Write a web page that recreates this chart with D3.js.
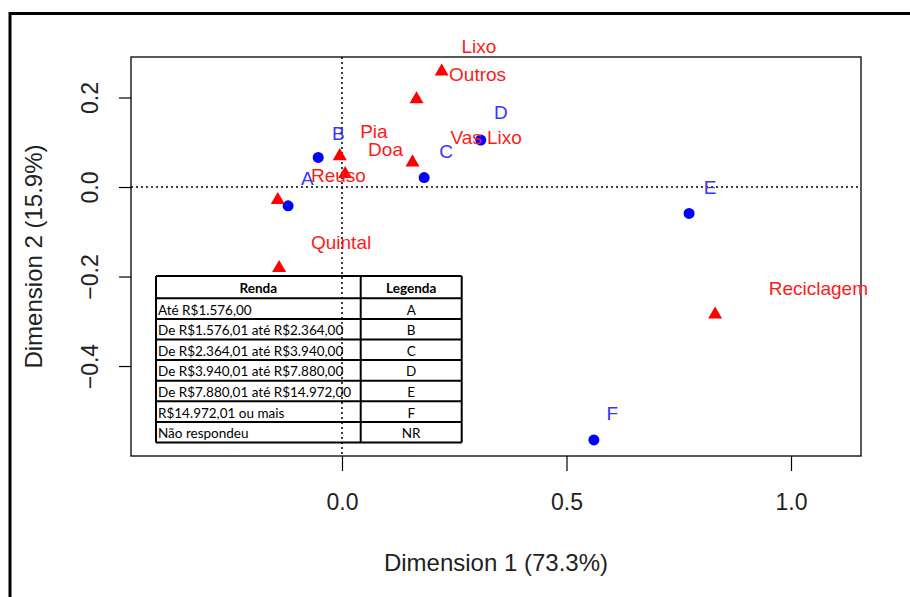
<!DOCTYPE html>
<html><head><meta charset="utf-8">
<script src="https://cdn.jsdelivr.net/npm/d3@7"></script>
<style>body{margin:0;background:#fff}svg{display:block}</style>
</head><body>
<svg id="c" width="910" height="597"></svg>
<script>
// ---- data ----
const rowNames = ["A","B","C","D","E","F"];
const rowX = [-0.120,-0.053,0.183,0.309,0.773,0.561];
const rowY = [-0.042,0.066,0.021,0.105,-0.059,-0.565];
const rowLabelX = [-0.077,-0.008,0.232,0.354,0.820,0.602];
const rowLabelY = [0.019,0.120,0.080,0.166,-0.002,-0.507];

const colNames = ["Outros","Lixo","Pia","Reuso","Vas Lixo","Doa","Quintal","Reciclagem"];
const colX = [0.222,0.166,-0.005,0.007,0.157,-0.143,-0.140,0.831];
const colY = [0.258,0.196,0.069,0.029,0.055,-0.029,-0.181,-0.285];
const colLabelX = [0.302,0.305,0.071,-0.008,0.321,0.097,-0.002,1.061];
const colLabelY = [0.252,0.315,0.125,0.025,0.110,0.084,-0.123,-0.226];

const xTicks = [0.0,0.5,1.0];
const yTicks = [-0.4,-0.2,0.0,0.2];
const xTitle = "Dimension 1 (73.3%)";
const yTitle = "Dimension 2 (15.9%)";

const tableHeader = ["Renda","Legenda"];
const rendaLabels = ["Até R$1.576,00","De R$1.576,01 até R$2.364,00","De R$2.364,01 até R$3.940,00","De R$3.940,01 até R$7.880,00","De R$7.880,01 até R$14.972,00","R$14.972,01 ou mais","Não respondeu"];
const legendaCodes = ["A","B","C","D","E","F","NR"];

// ---- drawing ----
const svg = d3.select("#c");
const L=131, R=861, T=57, B=456;
const x = d3.scaleLinear().domain([-0.4699,1.1559]).range([L,R]);
const y = d3.scaleLinear().domain([0.2905,-0.601]).range([T,B]);
const font = "'Liberation Sans', Arial, sans-serif";

// outer frame
svg.append("path").attr("d","M10,600 L10,13.5 L915,13.5")
  .attr("fill","none").attr("stroke","#000").attr("stroke-width",3);

// reference dotted lines
svg.append("line").attr("x1",L).attr("x2",R).attr("y1",y(0)).attr("y2",y(0))
  .attr("stroke","#000").attr("stroke-width",1.5).attr("stroke-dasharray","2,3");
svg.append("line").attr("x1",x(0)).attr("x2",x(0)).attr("y1",T).attr("y2",B)
  .attr("stroke","#000").attr("stroke-width",1.5).attr("stroke-dasharray","2,3");

// box
svg.append("rect").attr("x",L).attr("y",T).attr("width",R-L).attr("height",B-T)
  .attr("fill","none").attr("stroke","#000").attr("stroke-width",1.3);

// axes
const gx = svg.append("g").attr("transform",`translate(0,${B})`)
  .call(d3.axisBottom(x).tickValues(xTicks).tickFormat(d3.format(".1f")).tickSize(15).tickSizeOuter(0));
gx.select(".domain").remove();
gx.selectAll(".tick line").attr("stroke","#000").attr("stroke-width",1.2);
gx.selectAll(".tick text").attr("font-family",font).attr("font-size",23).attr("fill","#222")
  .attr("y",46).attr("dy","0.35em");

const gy = svg.append("g").attr("transform",`translate(${L},0)`)
  .call(d3.axisLeft(y).tickValues(yTicks).tickFormat(d3.format(".1f")).tickSize(12).tickSizeOuter(0));
gy.select(".domain").remove();
gy.selectAll(".tick line").attr("stroke","#000").attr("stroke-width",1.2);
gy.selectAll(".tick text").attr("font-family",font).attr("font-size",23).attr("fill","#222")
  .attr("x",null).attr("dy",null)
  .attr("text-anchor","middle").attr("dominant-baseline","central")
  .attr("transform","translate(-41,0) rotate(-90)");

// titles
svg.append("text").attr("x",(L+R)/2).attr("y",562).attr("text-anchor","middle")
  .attr("dominant-baseline","central").attr("font-family",font).attr("font-size",24)
  .attr("fill","#222").text(xTitle);
svg.append("text").attr("transform",`translate(33,${(T+B)/2}) rotate(-90)`).attr("text-anchor","middle")
  .attr("dominant-baseline","central").attr("font-family",font).attr("font-size",24)
  .attr("fill","#222").text(yTitle);

// points
svg.append("g").selectAll("circle").data(rowNames).join("circle")
  .attr("cx",(d,i)=>x(rowX[i])).attr("cy",(d,i)=>y(rowY[i])).attr("r",5.5).attr("fill","#0000ff");
const tri = d3.symbol(d3.symbolTriangle, 85);
svg.append("g").selectAll("path").data(colNames).join("path")
  .attr("d",tri).attr("transform",(d,i)=>`translate(${x(colX[i])},${y(colY[i])})`).attr("fill","#ff0000");

// labels
svg.append("g").selectAll("text").data(rowNames).join("text")
  .attr("x",(d,i)=>x(rowLabelX[i])).attr("y",(d,i)=>y(rowLabelY[i]))
  .attr("text-anchor","middle").attr("dominant-baseline","central")
  .attr("font-family",font).attr("font-size",19).attr("fill","#3535ff").text(d=>d);
svg.append("g").selectAll("text").data(colNames).join("text")
  .attr("x",(d,i)=>x(colLabelX[i])).attr("y",(d,i)=>y(colLabelY[i]))
  .attr("text-anchor","middle").attr("dominant-baseline","central")
  .attr("font-family",font).attr("font-size",19).attr("fill","#ff1a1a").text(d=>d);

// legend table
const tL=156, tC=360.7, tR=461.7, tTop=276, hH=22.3, rH=20.6;
const tb = svg.append("g");
const nRows = rendaLabels.length;
const tBot = tTop + hH + rH*nRows;
const hLines = [tTop].concat(d3.range(nRows+1).map(i=>tTop+hH+rH*i));
tb.selectAll("line.h").data(hLines).join("line").attr("class","h")
  .attr("x1",tL).attr("x2",tR).attr("y1",d=>d).attr("y2",d=>d).attr("stroke","#000").attr("stroke-width",2);
tb.selectAll("line.v").data([tL,tC,tR]).join("line").attr("class","v")
  .attr("x1",d=>d).attr("x2",d=>d).attr("y1",tTop).attr("y2",tBot).attr("stroke","#000").attr("stroke-width",2);
const tfont = "Lato, 'Open Sans', sans-serif";
tb.selectAll("text.hd").data(tableHeader).join("text").attr("class","hd")
  .attr("x",(d,i)=> i===0 ? (tL+tC)/2 : (tC+tR)/2).attr("y",tTop+hH/2+1)
  .attr("text-anchor","middle").attr("dominant-baseline","central")
  .attr("font-family",tfont).attr("font-weight","bold").attr("font-size",13.5).attr("fill","#000").text(d=>d);
tb.selectAll("text.rl").data(rendaLabels).join("text").attr("class","rl")
  .attr("x",tL+2).attr("y",(d,i)=>tTop+hH+rH*i+rH/2+1)
  .attr("dominant-baseline","central").attr("font-family",tfont).attr("font-size",13.5).attr("fill","#000").text(d=>d);
tb.selectAll("text.lc").data(legendaCodes).join("text").attr("class","lc")
  .attr("x",(tC+tR)/2).attr("y",(d,i)=>tTop+hH+rH*i+rH/2+1).attr("text-anchor","middle")
  .attr("dominant-baseline","central").attr("font-family",tfont).attr("font-size",13.5).attr("fill","#000").text(d=>d);
</script>
</body></html>
